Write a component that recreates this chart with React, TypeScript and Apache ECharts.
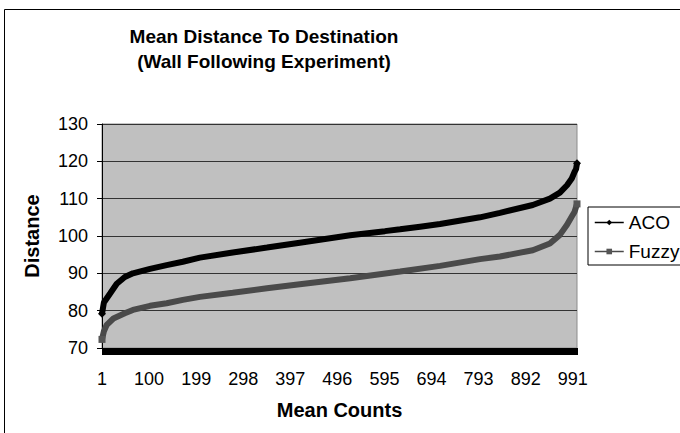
import React, { useEffect, useRef } from "react";
import * as echarts from "echarts";

const CATEGORY_COUNT = 1000;
const categories: string[] = Array.from({ length: CATEGORY_COUNT }, (_, i) => String(i + 1));

const acoIndex = [0, 4, 17, 31, 48, 65, 101, 136, 170, 206, 275, 347, 416, 522, 595, 627, 669, 711, 795, 837, 906, 942, 963, 978, 988, 994, 997, 999];
const acoValues = [79.2, 82.2, 84.6, 87.2, 89.0, 90.0, 91.2, 92.2, 93.1, 94.2, 95.6, 96.9, 98.2, 100.2, 101.3, 101.8, 102.5, 103.2, 105.0, 106.2, 108.3, 110.0, 111.6, 113.6, 115.4, 117.2, 117.9, 119.5];

const fuzzyIndex = [0, 4, 10, 24, 48, 65, 101, 136, 170, 206, 275, 347, 416, 522, 627, 711, 795, 837, 906, 942, 963, 978, 988, 994, 999];
const fuzzyValues = [72.3, 74.5, 76.2, 77.9, 79.3, 80.2, 81.3, 82.0, 82.9, 83.7, 84.8, 86.0, 87.1, 88.7, 90.5, 92.0, 93.8, 94.5, 96.2, 98.0, 100.3, 103.0, 105.2, 106.5, 108.6];

const FONT = "'Liberation Sans', Arial, sans-serif";

function buildData(idx: number[], vals: number[]) {
  return idx.map((i, k) => {
    const isEnd = k === 0 || k === idx.length - 1;
    return isEnd ? { value: [i, vals[k]] } : { value: [i, vals[k]], symbol: "none" };
  });
}

export default function App() {
  const ref = useRef<HTMLDivElement>(null);
  useEffect(() => {
    if (!ref.current) return;
    const chart = echarts.init(ref.current, null, { renderer: "svg" });
    chart.setOption({
      animation: false,
      backgroundColor: "#ffffff",
      graphic: [
        {
          type: "rect",
          silent: true,
          shape: { x: 4.5, y: 9.5, width: 720, height: 520 },
          style: { fill: "none", stroke: "#000", lineWidth: 1 },
          z: -10,
        },
        {
          type: "text",
          x: 264,
          y: 49,
          style: {
            text: "Mean Distance To Destination\n(Wall Following Experiment)",
            font: `bold 19px ${FONT}`,
            fill: "#000",
            textAlign: "center",
            textVerticalAlign: "middle",
            lineHeight: 25,
          },
        },
      ],
      legend: {
        orient: "vertical",
        left: 588,
        top: 207,
        data: ["ACO", "Fuzzy"],
        borderColor: "#000",
        borderWidth: 1,
        borderRadius: 0,
        padding: [6, 6, 4, 6],
        itemWidth: 29,
        itemHeight: 7,
        itemGap: 10,
        lineStyle: { width: 1.5 },
        textStyle: { fontSize: 19, color: "#000", fontFamily: FONT, padding: [0, 0, 0, 0] },
      },
      grid: {
        left: 102,
        right: 103,
        top: 124,
        bottom: 85,
        show: true,
        backgroundColor: "#c0c0c0",
        borderColor: "#8c8c8c",
        borderWidth: 1,
      },
      xAxis: {
        type: "category",
        data: categories,
        boundaryGap: false,
        name: "Mean Counts",
        nameLocation: "middle",
        nameGap: 52,
        nameTextStyle: { fontSize: 20, fontWeight: "bold", color: "#000", fontFamily: FONT },
        axisLine: { show: true, lineStyle: { color: "#000", width: 1 } },
        axisTick: { show: true, interval: 0, length: 7, lineStyle: { color: "#000", width: 1 } },
        axisLabel: { interval: 98, fontSize: 18, color: "#000", fontFamily: FONT, margin: 22 },
        splitLine: { show: false },
      },
      yAxis: {
        type: "value",
        min: 70,
        max: 130,
        interval: 10,
        name: "Distance",
        nameLocation: "middle",
        nameGap: 60,
        nameTextStyle: { fontSize: 20, fontWeight: "bold", color: "#000", fontFamily: FONT },
        axisLine: { show: true, lineStyle: { color: "#000", width: 1 } },
        axisTick: { show: true, length: 5, lineStyle: { color: "#000" } },
        axisLabel: { fontSize: 18, color: "#000", fontFamily: FONT, margin: 14 },
        splitLine: { show: true, lineStyle: { color: "#333", width: 1 } },
      },
      series: [
        {
          name: "ACO",
          type: "line",
          data: buildData(acoIndex, acoValues),
          symbol: "diamond",
          symbolSize: 8,
          showSymbol: true,
          showAllSymbol: true,
          clip: false,
          lineStyle: { color: "#000", width: 6 },
          itemStyle: { color: "#000" },
          z: 3,
        },
        {
          name: "Fuzzy",
          type: "line",
          data: buildData(fuzzyIndex, fuzzyValues),
          symbol: "rect",
          symbolSize: 7,
          showSymbol: true,
          showAllSymbol: true,
          clip: false,
          lineStyle: { color: "#4a4a4a", width: 6 },
          itemStyle: { color: "#555" },
          z: 2,
        },
      ],
    });
    return () => chart.dispose();
  }, []);
  return (
    <div
      ref={ref}
      style={{ position: "fixed", left: 0, top: 0, width: 680, height: 433 }}
    />
  );
}
